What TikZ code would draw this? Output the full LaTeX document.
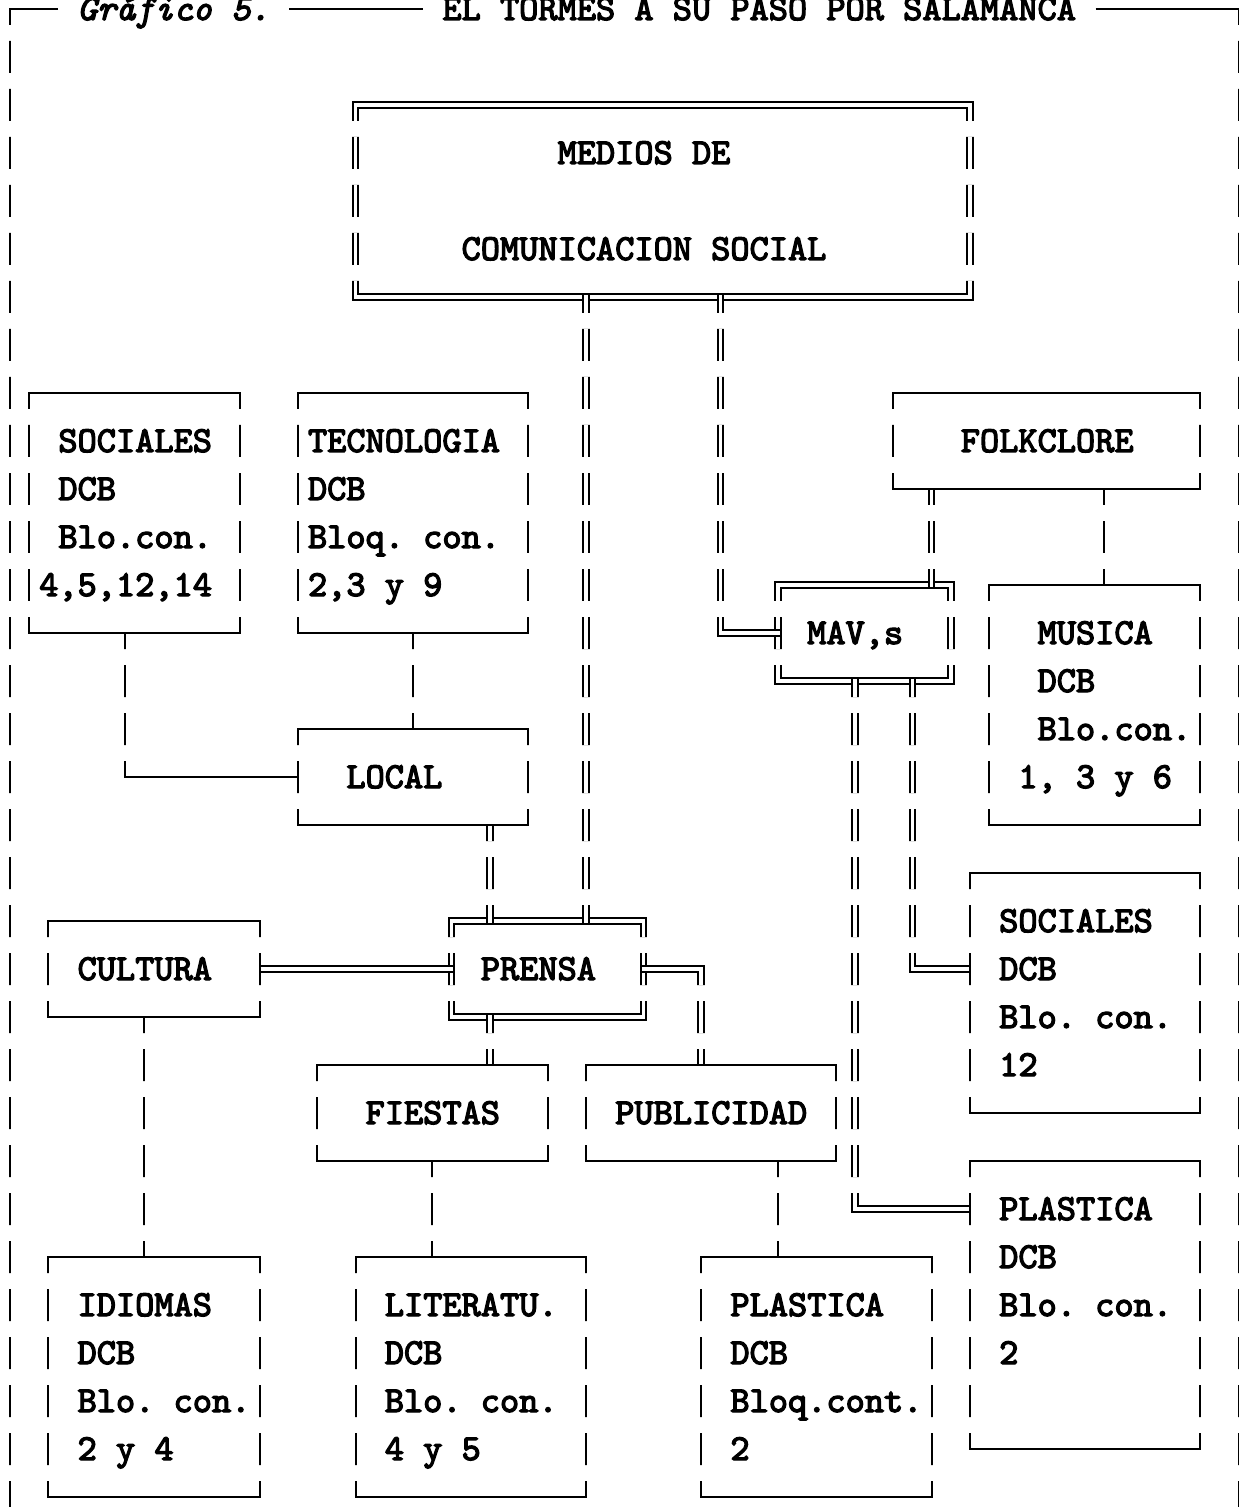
\documentclass[tikz,border=0pt]{standalone}
\usetikzlibrary{calc,fit}
\font\boxfnt="[lmmono10-regular.otf]:embolden=3.5" at 18.2857pt
\font\grafnt="[lmmono10-italic.otf]:embolden=3.5" at 18.2857pt
\tikzset{sbox/.style={rectangle,draw,line width=1pt,inner sep=0pt,outer sep=0pt}}
\tikzset{dbox/.style={rectangle,draw,double,line width=1pt,double distance=1.8pt,inner sep=0pt,outer sep=0pt}}
\tikzset{slink/.style={line width=1pt}}
\tikzset{dlink/.style={double,line width=1pt,double distance=1.8pt}}
\tikzset{from d/.style={shorten <=-.9pt},from s/.style={shorten <=.5pt},
         to d/.style={shorten >=-.9pt},to s/.style={shorten >=.5pt}}
\tikzset{txt/.style={anchor=base west,inner sep=0pt,yshift=-5.5pt,font=\boxfnt\frenchspacing}}
\tikzset{ttl/.style={txt,font=\grafnt\frenchspacing}}

\begin{document}
\begin{tikzpicture}[x=9.6pt,y=-24pt]
  \path[use as bounding box,fill=white] (-0.52083,-0.1875) rectangle (63.95833,31.20833);

  % texts, one node per line
  \node [ttl] (graf) at (3.5,0) {Gráfico 5.};
  \node [txt] (head) at (22.5,0) {EL TORMES A SU PASO POR SALAMANCA};
  \node [txt] (med1) at (28.5,3) {MEDIOS DE};
  \node [txt] (med2) at (23.5,5) {COMUNICACION SOCIAL};
  \node [txt] (socl1) at (2.5,9) {SOCIALES};
  \node [txt] (socl2) at (2.5,10) {DCB};
  \node [txt] (socl3) at (2.5,11) {Blo.con.};
  \node [txt] (socl4) at (1.5,12) {4,5,12,14};
  \node [txt] (tec1) at (15.5,9) {TECNOLOGIA};
  \node [txt] (tec2) at (15.5,10) {DCB};
  \node [txt] (tec3) at (15.5,11) {Bloq. con.};
  \node [txt] (tec4) at (15.5,12) {2,3 y 9};
  \node [txt] (folk1) at (49.5,9) {FOLKCLORE};
  \node [txt] (mav1) at (41.5,13) {MAV,s};
  \node [txt] (mus1) at (53.5,13) {MUSICA};
  \node [txt] (mus2) at (53.5,14) {DCB};
  \node [txt] (mus3) at (53.5,15) {Blo.con.};
  \node [txt] (mus4) at (52.5,16) {1, 3 y 6};
  \node [txt] (loc1) at (17.5,16) {LOCAL};
  \node [txt] (socr1) at (51.5,19) {SOCIALES};
  \node [txt] (socr2) at (51.5,20) {DCB};
  \node [txt] (socr3) at (51.5,21) {Blo. con.};
  \node [txt] (socr4) at (51.5,22) {12};
  \node [txt] (cul1) at (3.5,20) {CULTURA};
  \node [txt] (pre1) at (24.5,20) {PRENSA};
  \node [txt] (fie1) at (18.5,23) {FIESTAS};
  \node [txt] (pub1) at (31.5,23) {PUBLICIDAD};
  \node [txt] (plr1) at (51.5,25) {PLASTICA};
  \node [txt] (plr2) at (51.5,26) {DCB};
  \node [txt] (plr3) at (51.5,27) {Blo. con.};
  \node [txt] (plr4) at (51.5,28) {2};
  \node [txt] (idi1) at (3.5,27) {IDIOMAS};
  \node [txt] (idi2) at (3.5,28) {DCB};
  \node [txt] (idi3) at (3.5,29) {Blo. con.};
  \node [txt] (idi4) at (3.5,30) {2 y 4};
  \node [txt] (lit1) at (19.5,27) {LITERATU.};
  \node [txt] (lit2) at (19.5,28) {DCB};
  \node [txt] (lit3) at (19.5,29) {Blo. con.};
  \node [txt] (lit4) at (19.5,30) {4 y 5};
  \node [txt] (plb1) at (37.5,27) {PLASTICA};
  \node [txt] (plb2) at (37.5,28) {DCB};
  \node [txt] (plb3) at (37.5,29) {Bloq.cont.};
  \node [txt] (plb4) at (37.5,30) {2};

  \begin{scope}
    % vertical strokes are broken between the rows
    \clip \foreach \r in {0,...,32} {(-1,\r-0.3333) rectangle (65,\r+0.3333)};

    \coordinate (tl) at (0,0);
    \coordinate (tr) at (64,0);
    \draw [slink] ($(graf.west |- tl)+(-1,0)$) -- (tl) -- (0,32);
    \draw [slink] ($(graf.east |- tl)+(1,0)$) -- ($(head.west |- tl)+(-1,0)$);
    \draw [slink] ($(head.east |- tl)+(1,0)$) -- (tr) -- (64,32);

    \node [dbox,fit={(18,2) (50,6)}] (medios) {};
    \node [sbox,fit={(1,8) (12,13)}] (socl) {};
    \node [sbox,fit={(15,8) (27,13)}] (tec) {};
    \node [sbox,fit={(46,8) (62,10)}] (folk) {};
    \node [dbox,fit={(40,12) (49,14)}] (mav) {};
    \node [sbox,fit={(51,12) (62,17)}] (musica) {};
    \node [sbox,fit={(15,15) (27,17)}] (local) {};
    \node [sbox,fit={(50,18) (62,23)}] (socr) {};
    \node [sbox,fit={(2,19) (13,21)}] (cultura) {};
    \node [dbox,fit={(23,19) (33,21)}] (prensa) {};
    \node [sbox,fit={(16,22) (28,24)}] (fiestas) {};
    \node [sbox,fit={(30,22) (43,24)}] (publi) {};
    \node [sbox,fit={(50,24) (62,30)}] (plasr) {};
    \node [sbox,fit={(2,26) (13,31)}] (idiomas) {};
    \node [sbox,fit={(18,26) (30,31)}] (litera) {};
    \node [sbox,fit={(36,26) (48,31)}] (plasb) {};

    \draw [dlink,from d,to d] ($(medios.south west)+(12,0)$) coordinate (m1) -- (m1 |- prensa.north);
    \draw [dlink,from d,to d] ($(medios.south west)+(19,0)$) |- (mav.west);
    \draw [slink] ($(socl.south west)+(5,0)$) |- (local.west);
    \draw [slink] ($(tec.south west)+(6,0)$) coordinate (t1) -- (t1 |- local.north);
    \draw [dlink,from s,to d] ($(local.south west)+(10,0)$) coordinate (l1) -- (l1 |- prensa.north);
    \draw [dlink,from s,to d] ($(folk.south west)+(2,0)$) coordinate (f1) -- (f1 |- mav.north);
    \draw [slink] ($(folk.south west)+(11,0)$) coordinate (f2) -- (f2 |- musica.north);
    \draw [dlink,from d,to s] ($(mav.south west)+(7,0)$) |- ($(socr.north west)+(0,2)$);
    \draw [dlink,from d,to s] ($(mav.south west)+(4,0)$) |- ($(plasr.north west)+(0,1)$);
    \draw [dlink,from s,to d] (cultura.east) -- (prensa.west);
    \draw [dlink,from d,to s] (prensa.east) -| ($(publi.north west)+(6,0)$);
    \draw [dlink,from d,to s] ($(prensa.south west)+(2,0)$) coordinate (p1) -- (p1 |- fiestas.north);
    \draw [slink] ($(cultura.south west)+(5,0)$) coordinate (k1) -- (k1 |- idiomas.north);
    \draw [slink] ($(fiestas.south west)+(6,0)$) coordinate (k2) -- (k2 |- litera.north);
    \draw [slink] ($(publi.south west)+(10,0)$) coordinate (k3) -- (k3 |- plasb.north);
  \end{scope}
\end{tikzpicture}
\end{document}
